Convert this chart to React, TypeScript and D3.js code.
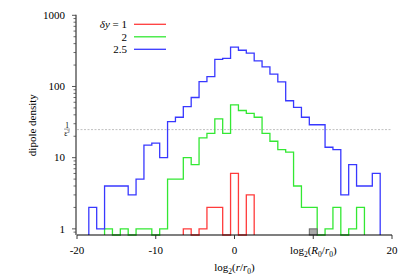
import React from 'react';
import * as d3 from 'd3';

// histogram bins (centres in log2(r/r0)), counts per series; 0 = empty bin
const bins = [-18, -17, -16, -15, -14, -13, -12, -11, -10, -9, -8, -7, -6, -5, -4, -3, -2, -1, 0,
  1, 2, 3, 4, 5, 6, 7, 8, 9, 10, 11, 12, 13, 14, 15, 16, 17, 18];

const blueCounts = [2, 1, 4, 4, 4, 3, 5, 15, 16, 10, 32, 37, 52, 70, 117, 138, 240, 248, 357,
  323, 294, 229, 189, 149, 116, 63, 51, 37, 29, 29, 14, 13, 3, 8, 4, 4, 6];
const greenCounts = [0, 0, 1, 0, 1, 0, 1, 1, 0, 1, 5, 5, 10, 8, 19, 22, 35, 22, 55,
  46, 42, 37, 22, 17, 13, 12, 4, 2, 2, 0, 1, 2, 0, 1, 2, 0, 0];
const redCounts = [0, 0, 0, 0, 0, 0, 0, 0, 0, 0, 0, 0, 1, 0, 1, 2, 2, 0, 6,
  0, 3, 0, 0, 0, 0, 0, 0, 0, 0, 0, 0, 0, 0, 0, 0, 0, 0];

const seriesNames = ['1', '2', '2.5'];
const seriesColors = ['#ff3b3b', '#33e833', '#3838ff'];
const seriesCounts = [redCounts, greenCounts, blueCounts];

const xTicks = [-20, -10, 0, 10, 20];
const yMajor = [1, 10, 100, 1000];
const thresholdValue = 24.8; // 1/eps^2 line
const markerBin = 10; // R0 box

const W = 415;
const H = 279;
const serif = "'Times New Roman', 'Liberation Serif', 'DejaVu Serif', serif";

const x = d3.scaleLinear().domain([-20, 20]).range([77, 392]);
const yMin = 0.82;
const y = d3.scaleLog().domain([yMin, 1000]).range([235, 15.3]);

const stepPath = (counts: number[]) => {
  const first = counts.findIndex(c => c > 0);
  let last = counts.length - 1;
  while (last > 0 && counts[last] === 0) last--;
  const pts: [number, number][] = [[bins[first] - 0.5, yMin]];
  for (let i = first; i <= last; i++) pts.push([bins[i] - 0.5, counts[i] > 0 ? counts[i] : yMin]);
  pts.push([bins[last] + 0.5, counts[last]]);
  pts.push([bins[last] + 0.5, yMin]);
  return d3.line<[number, number]>()
    .x(d => x(d[0]))
    .y(d => y(d[1]))
    .curve(d3.curveStepAfter)(pts) || '';
};

const Sub = ({ children }: { children: React.ReactNode }) => (
  <tspan fontSize={7.5} dy={2.5}>{children}</tspan>
);

export default function App() {
  const minor: number[] = [];
  [0.1, 1, 10, 100].forEach(dec => {
    for (let k = 2; k <= 9; k++) {
      const v = k * dec;
      if (v >= yMin && v < 1000) minor.push(v);
    }
  });

  return (
    <svg width={W} height={H}
      style={{ position: 'absolute', left: 0, top: 0, background: '#fff', fontFamily: serif, fontSize: 11 }}>
      {/* threshold line */}
      <line x1={x(-20)} x2={x(20)} y1={y(thresholdValue)} y2={y(thresholdValue)}
        stroke="#b0b0b0" strokeWidth={0.8} strokeDasharray="2,1.5" />
      <g transform={`translate(67,${y(thresholdValue)})`} style={{ fontSize: 7.5 }} textAnchor="middle">
        <text y={-2}>1</text>
        <line x1={-3} x2={3} y1={-0.5} y2={-0.5} stroke="#333" strokeWidth={0.5} />
        <text y={6}>ε<tspan style={{ fontSize: 5 }} dy={-2.5}>2</tspan></text>
      </g>

      {/* histograms */}
      {seriesCounts.map((counts, i) => (
        <path key={i} d={stepPath(counts)} fill="none" stroke={seriesColors[i]} strokeWidth={1.3} />
      ))}

      {/* R0 box */}
      <rect x={x(markerBin - 0.5)} y={y(1)} width={x(markerBin + 0.5) - x(markerBin - 0.5)}
        height={y(yMin) - y(1)} fill="#aaa" stroke="#666" strokeWidth={1} />

      {/* y axis */}
      <line x1={76} x2={76} y1={y(1000) - 0.5} y2={y(yMin)} stroke="#888" strokeWidth={2} />
      {minor.map(v => (
        <line key={v} x1={73.5} x2={76} y1={y(v)} y2={y(v)} stroke="#444" strokeWidth={0.8} />
      ))}
      {yMajor.map(v => (
        <g key={v}>
          <line x1={72} x2={76} y1={y(v)} y2={y(v)} stroke="#444" strokeWidth={0.9} />
          <text x={65} y={y(v) + 3.8} textAnchor="end">{v}</text>
        </g>
      ))}
      <text transform={`translate(36,${(y(1000) + y(yMin)) / 2}) rotate(-90)`} textAnchor="middle">
        dipole density
      </text>

      {/* x axis */}
      <line x1={x(-20)} x2={x(20)} y1={235} y2={235} stroke="#000" strokeWidth={1.2} />
      {xTicks.map(t => (
        <g key={t}>
          <line x1={x(t)} x2={x(t)} y1={235} y2={239} stroke="#222" strokeWidth={0.9} />
          {t === 10 ? (
            <text x={x(t)} y={254} textAnchor="middle">
              log<Sub>2</Sub><tspan dy={-2.5}>(</tspan><tspan fontStyle="italic">R</tspan><Sub>0</Sub>
              <tspan dy={-2.5}>/</tspan><tspan fontStyle="italic">r</tspan><Sub>0</Sub><tspan dy={-2.5}>)</tspan>
            </text>
          ) : (
            <text x={x(t)} y={254} textAnchor="middle">{t}</text>
          )}
        </g>
      ))}
      <text x={x(0)} y={271} textAnchor="middle">
        log<Sub>2</Sub><tspan dy={-2.5}>(</tspan><tspan fontStyle="italic">r</tspan>
        <tspan dy={0}>/</tspan><tspan fontStyle="italic">r</tspan><Sub>0</Sub><tspan dy={-2.5}>)</tspan>
      </text>

      {/* legend */}
      {seriesNames.map((name, i) => (
        <g key={name} transform={`translate(0,${24.3 + i * 12.5})`}>
          <text x={127} y={3.8} textAnchor="end">
            {i === 0 ? (<><tspan fontStyle="italic">δy</tspan> = {name}</>) : name}
          </text>
          <line x1={134} x2={166} y1={0} y2={0} stroke={seriesColors[i]} strokeWidth={1.3} />
        </g>
      ))}
    </svg>
  );
}
